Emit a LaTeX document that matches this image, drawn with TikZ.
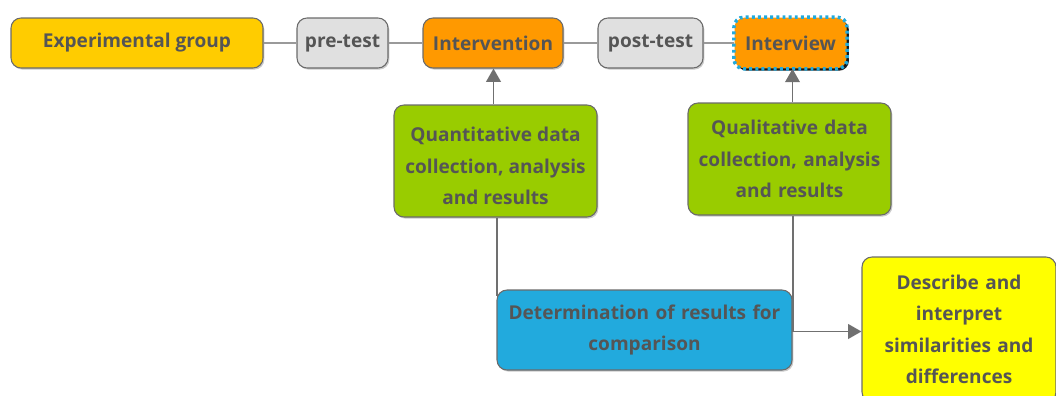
\documentclass[tikz,border=0pt]{standalone}
\usepackage{fontspec}
\setmainfont{Open Sans}
\usetikzlibrary{arrows.meta,shadows,calc}
\definecolor{cexp}{HTML}{FFCC00}
\definecolor{cgrey}{HTML}{E0E0E0}
\definecolor{corange}{HTML}{FF9900}
\definecolor{cgreen}{HTML}{99CC00}
\definecolor{cblue}{HTML}{22AADD}
\definecolor{cyellow}{HTML}{FFFF00}
\definecolor{ctext}{HTML}{555555}
\definecolor{cborder}{HTML}{6B6B6B}
\definecolor{cline}{HTML}{9A9A9A}
\definecolor{cline2}{HTML}{707070}
\tikzset{
  box/.style={draw=cborder, line width=0.8pt, rounded corners=7.5pt, align=center,
    inner sep=0pt, text=ctext, font=\bfseries\fontsize{14.3}{23.5}\selectfont,
    drop shadow={opacity=0.35, shadow xshift=1pt, shadow yshift=-1.2pt, fill=black!60}},
  txt/.style={align=center, inner sep=0pt, text=ctext, font=\bfseries\fontsize{14.3}{23.5}\selectfont},
  conn/.style={draw=cline, line width=1.2pt},
  conn2/.style={draw=cline2, line width=1.3pt},
  arr/.style={conn2, -{Triangle[length=10pt,width=11pt]}},
}
\begin{document}
\begin{tikzpicture}[x=0.75pt,y=-0.75pt]
\useasboundingbox (0,0) rectangle (1056,396);
\node[box, fill=cexp, minimum width=189pt, minimum height=37.5pt] (exp) at (137,43) {Experimental group};
\node[box, fill=cgrey, minimum width=68.25pt, minimum height=37.5pt] (pre) at (342.5,43) {pre-test};
\node[box, fill=corange, minimum width=105pt, minimum height=37.5pt] (interv) at (493,43) {Intervention};
\node[box, fill=corange, draw=none, drop shadow={opacity=0.9, shadow xshift=1.8pt, shadow yshift=-1.8pt, fill=black},
  minimum width=84pt, minimum height=38pt] (intw) at (790.5,43) {Interview};
\draw[cblue, line width=2.6pt, dash pattern=on 2.2pt off 2.4pt, rounded corners=7.5pt]
  (intw.south west) rectangle (intw.north east);
\node[box, fill=cgrey, minimum width=78.75pt, minimum height=37.5pt] (post) at (650.5,43) {post-test};
\node[box, fill=cgreen, minimum width=152.25pt, minimum height=84pt] (quant) at (495.5,161) {};
\node[txt] (quantT) at ($(quant.center)+(0,5)$) {Quantitative data\\collection, analysis\\and results};
\node[box, fill=cgreen, minimum width=152.25pt, minimum height=84pt, text width=150pt] (qual) at (789.5,159) {Qualitative data\\collection, analysis\\and results};
\node[box, fill=cblue, minimum width=221.25pt, minimum height=60pt, text width=219pt] (det) at (644.5,330) {Determination of results for\\comparison};
\node[box, fill=cyellow, minimum width=145.5pt, minimum height=108.75pt, text width=140pt] (desc) at (959,329.5) {Describe and\\interpret\\similarities and\\differences};
% connectors
\draw[conn] (exp) -- (pre);
\draw[conn] (pre) -- (interv);
\draw[conn] (interv) -- (post);
\draw[conn] (post) -- (intw);
\draw[arr] ($(quant.north)+(-2,0)$) -- ($(quant.north |- interv.south)+(-2,0)$);
\draw[arr] ($(qual.north)+(3,0)$) -- ($(qual.north |- intw.south)+(3,0)$);
\coordinate (qb) at ($(quant.south)+(1.5,0)$);
\draw[conn2] (qb) -- (qb |- 0,296);
\coordinate (lb) at ($(qual.south)+(3.5,0)$);
\draw[arr] (lb) |- ($(desc.west)+(0,2)$);
\end{tikzpicture}
\end{document}
